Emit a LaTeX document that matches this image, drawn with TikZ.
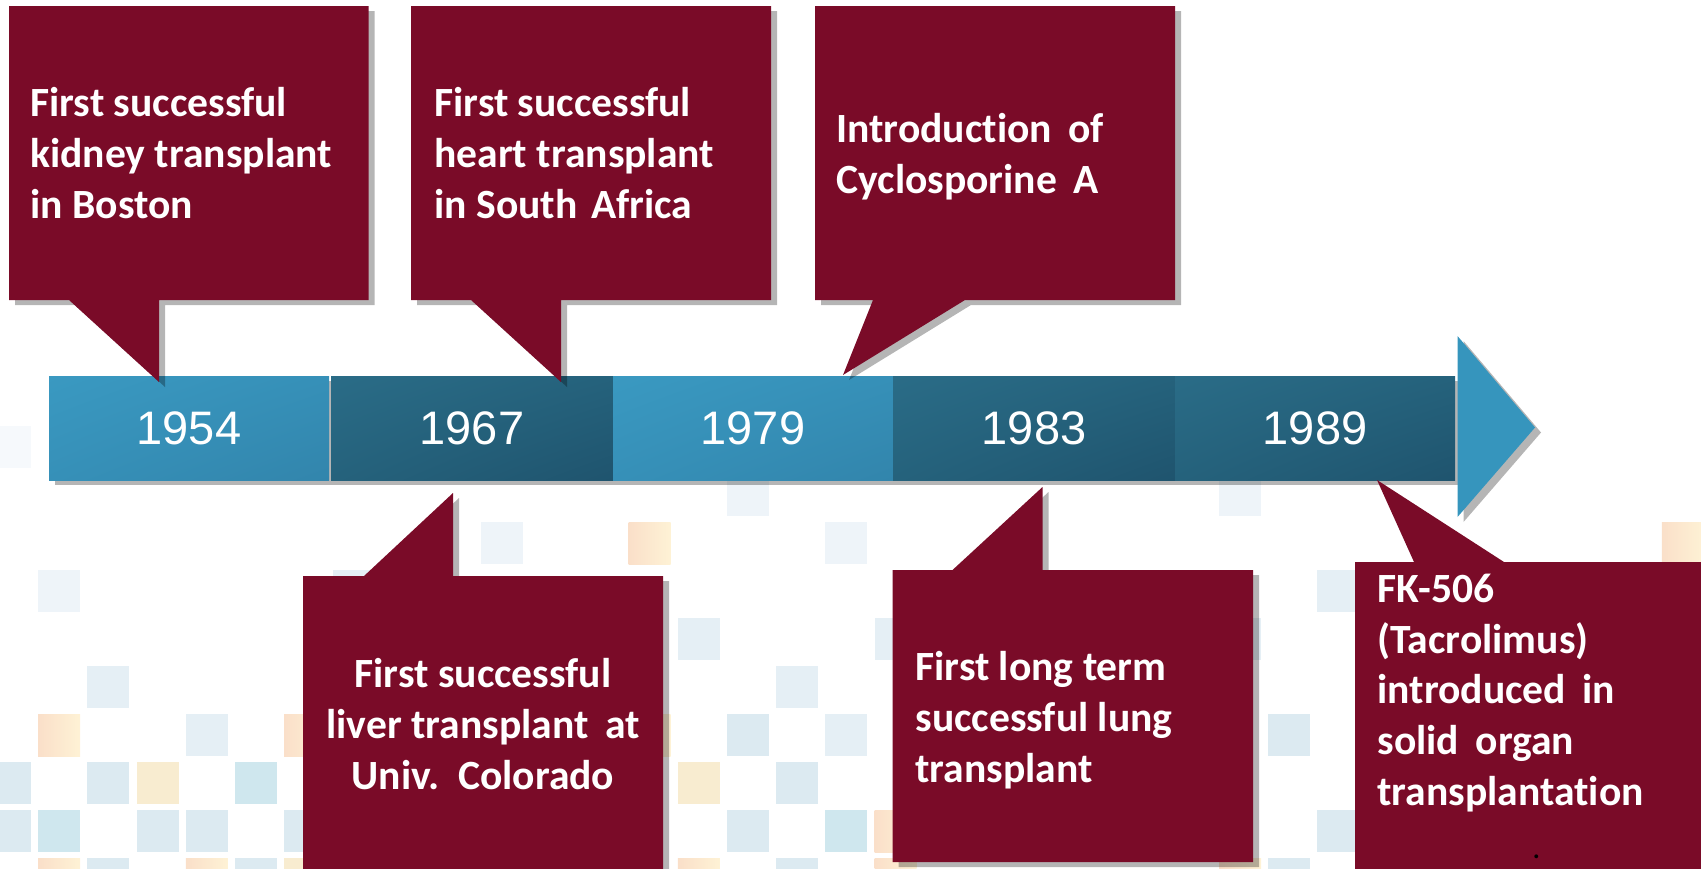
\documentclass[tikz,border=0pt]{standalone}
\usepackage{fontspec}
\usetikzlibrary{shadings}
\newfontfamily\calloutfont{Carlito}[Ligatures={NoCommon,NoRare}]
\newfontfamily\yearfont{Liberation Sans}

% palette
\definecolor{bubblered}{HTML}{7A0B28}
\definecolor{arrowblue}{HTML}{3695BD}
\definecolor{lightTL}{HTML}{3A99C1}
\definecolor{lightMid}{HTML}{3690B8}
\definecolor{lightBR}{HTML}{3285AC}
\definecolor{darkTL}{HTML}{2A6C87}
\definecolor{darkMid}{HTML}{25627C}
\definecolor{darkBR}{HTML}{1F546E}
\definecolor{tileA}{HTML}{F6F9FC}
\definecolor{tileB}{HTML}{EEF4F9}
\definecolor{tileC}{HTML}{E5EFF5}
\definecolor{tileD}{HTML}{DCEAF1}
\definecolor{tileE}{HTML}{CFE7EE}
\definecolor{tileY}{HTML}{F8ECD0}
\definecolor{tileOL}{HTML}{FADFC9}
\definecolor{tileOR}{HTML}{FEF2D5}

\begin{document}
\begin{tikzpicture}[x=0.5pt,y=-0.5pt,
  sqA/.style={fill=tileA},
  sqB/.style={fill=tileB},
  sqC/.style={fill=tileC},
  sqD/.style={fill=tileD},
  sqE/.style={fill=tileE},
  sqY/.style={fill=tileY},
  sqO/.style={left color=tileOL, right color=tileOR},
  segL/.style={upper left=lightTL, upper right=lightMid, lower left=lightMid, lower right=lightBR},
  segD/.style={upper left=darkTL, upper right=darkMid, lower left=darkMid, lower right=darkBR},
  dropshadow/.style={fill=black, fill opacity=0.29, shift={(6,5)}},
  bubble/.style={fill=bubblered},
  yearlabel/.style={font=\yearfont\fontsize{23.5}{28}\selectfont, text=white, inner sep=0pt},
  callouttext/.style={font=\calloutfont\bfseries\fontsize{20.8}{25.3}\selectfont, text=white, inner sep=0pt}
]
\useasboundingbox (0,0) rectangle (1701,868);
\clip (0,0) rectangle (1701,868);

% pale tile pattern in the lower part of the slide
\foreach \i/\j/\c in {
  0/0/sqA,
  15/1/sqB, 25/1/sqB,
  10/2/sqB, 13/2/sqO, 17/2/sqB, 34/2/sqO,
  1/3/sqB, 7/3/sqC, 27/3/sqC,
  14/4/sqC, 18/4/sqC, 25/4/sqC,
  2/5/sqC, 16/5/sqC,
  1/6/sqO, 4/6/sqC, 6/6/sqO, 13/6/sqO, 15/6/sqD, 17/6/sqC, 26/6/sqD,
  0/7/sqD, 2/7/sqD, 3/7/sqY, 5/7/sqE, 14/7/sqY, 16/7/sqD,
  0/8/sqD, 1/8/sqE, 3/8/sqD, 4/8/sqD, 6/8/sqD, 15/8/sqD, 17/8/sqE, 18/8/sqO, 27/8/sqD,
  1/9/sqO, 2/9/sqD, 4/9/sqO, 5/9/sqD, 6/9/sqY, 14/9/sqO, 16/9/sqD, 18/9/sqO, 25/9/sqO, 26/9/sqD}
  {\path[\c] ({-11+49.2*\i},{426+48*\j}) rectangle ++(42,42);}

% timeline bar
\fill[dropshadow] (49,376) rectangle (1455,480);
\fill[dropshadow] (1457.5,336) -- (1535,427.5) -- (1457.5,517) -- cycle;
\foreach \a/\b/\st/\yr in {49/329/segL/1954, 331/613/segD/1967, 613/893/segL/1979,
                           893/1175/segD/1983, 1175/1455/segD/1989}{
  \shade[\st] (\a,376) rectangle (\b,480);
  \node[yearlabel] (y\yr) at ({(\a+\b)/2},428) {\yr};
}
\fill[arrowblue] (1457.5,336) -- (1535,427.5) -- (1457.5,517) -- cycle;

% callout shadows
\fill[dropshadow] (9,6) -- (368.5,6) -- (368.5,300) -- (159,300) -- (159,382) -- (69,300) -- (9,300) -- cycle;
\fill[dropshadow] (411,6) -- (771,6) -- (771,300) -- (561,300) -- (561,382) -- (471,300) -- (411,300) -- cycle;
\fill[dropshadow] (815,6) -- (1175,6) -- (1175,300) -- (965,300) -- (843,375) -- (873,300) -- (815,300) -- cycle;
\fill[dropshadow] (303,576) -- (364,576) -- (453,493) -- (453,576) -- (663,576) -- (663,880) -- (303,880) -- cycle;
\fill[dropshadow] (892.5,570) -- (952.5,570) -- (1042.5,487) -- (1042.5,570) -- (1253,570) -- (1253,862) -- (892.5,862) -- cycle;
\fill[dropshadow] (1355,562) -- (1414,562) -- (1377,480) -- (1504,562) -- (1720,562) -- (1720,880) -- (1355,880) -- cycle;

% callouts
\fill[bubble] (9,6) -- (368.5,6) -- (368.5,300) -- (159,300) -- (159,382) -- (69,300) -- (9,300) -- cycle;
\fill[bubble] (411,6) -- (771,6) -- (771,300) -- (561,300) -- (561,382) -- (471,300) -- (411,300) -- cycle;
\fill[bubble] (815,6) -- (1175,6) -- (1175,300) -- (965,300) -- (843,375) -- (873,300) -- (815,300) -- cycle;
\fill[bubble] (303,576) -- (364,576) -- (453,493) -- (453,576) -- (663,576) -- (663,880) -- (303,880) -- cycle;
\fill[bubble] (892.5,570) -- (952.5,570) -- (1042.5,487) -- (1042.5,570) -- (1253,570) -- (1253,862) -- (892.5,862) -- cycle;
\fill[bubble] (1355,562) -- (1414,562) -- (1377,480) -- (1504,562) -- (1720,562) -- (1720,880) -- (1355,880) -- cycle;

% callout texts (anchored on the baseline of their last line)
\node[callouttext, anchor=base west, align=left] (kidney) at (30,218)
  {First successful\\kidney transplant\\in Boston};
\node[callouttext, anchor=base west, align=left] (heart) at (434,218)
  {First successful\\heart transplant\\in South\hspace{.1em} Africa};
\node[callouttext, anchor=base west, align=left] (cyclo) at (836,193)
  {Introduction\hspace{.17em} of\\Cyclosporine\hspace{.17em} A};
\node[callouttext, anchor=base, align=center] (liver) at (483,789)
  {First successful\\liver transplant\hspace{.17em} at\\Univ.\hspace{.15em} Colorado};
\node[callouttext, anchor=base west, align=left] (lung) at (915,782)
  {First long term\\successful lung\\transplant};
\node[callouttext, anchor=base west, align=left] (fk) at (1377,805)
  {FK-506\\(Tacrolimus)\\introduced\hspace{.17em} in\\solid\hspace{.17em} organ\\transplantation};
\node[font=\calloutfont\fontsize{16}{16}\selectfont, text=black, inner sep=0pt, anchor=base] (stray) at (1536.5,858) {.};
\end{tikzpicture}
\end{document}
